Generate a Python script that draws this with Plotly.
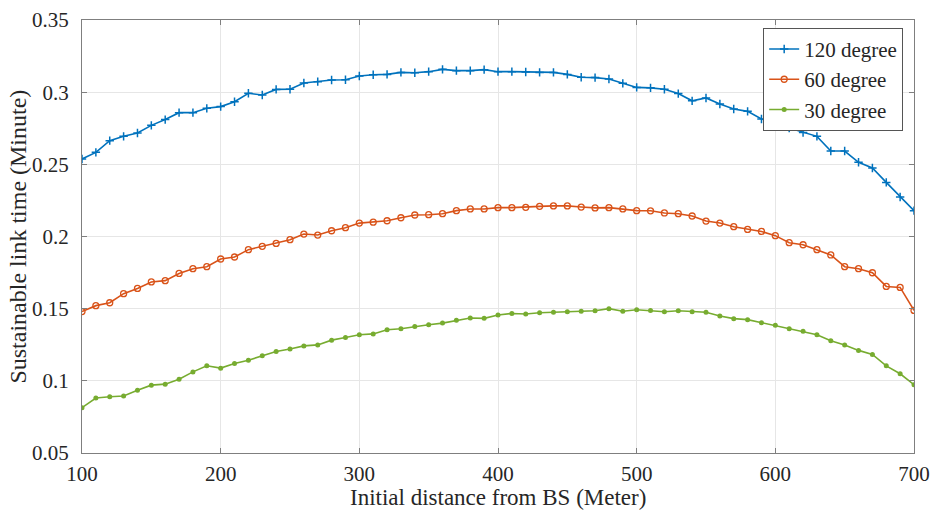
import plotly.graph_objects as go

distance = list(range(100, 701, 10))

deg120 = [0.2537, 0.2583, 0.2664, 0.2694, 0.2717, 0.2770, 0.2810, 0.2858, 0.2858, 0.2888,
          0.2900, 0.2934, 0.2992, 0.2980, 0.3019, 0.3020, 0.3063, 0.3073, 0.3084, 0.3086,
          0.3112, 0.3121, 0.3123, 0.3137, 0.3135, 0.3142, 0.3158, 0.3149, 0.3149, 0.3156,
          0.3142, 0.3142, 0.3140, 0.3137, 0.3137, 0.3123, 0.3103, 0.3101, 0.3091, 0.3061,
          0.3033, 0.3030, 0.3020, 0.2990, 0.2940, 0.2960, 0.2918, 0.2883, 0.2867, 0.2814,
          0.2793, 0.2752, 0.2721, 0.2694, 0.2592, 0.2592, 0.2514, 0.2475, 0.2375, 0.2274,
          0.2179]

deg60 = [0.1480, 0.1521, 0.1541, 0.1604, 0.1640, 0.1685, 0.1694, 0.1744, 0.1777, 0.1791,
         0.1844, 0.1858, 0.1909, 0.1932, 0.1952, 0.1978, 0.2017, 0.2010, 0.2040, 0.2061,
         0.2093, 0.2099, 0.2109, 0.2130, 0.2149, 0.2151, 0.2158, 0.2179, 0.2191, 0.2191,
         0.2200, 0.2200, 0.2202, 0.2209, 0.2212, 0.2212, 0.2204, 0.2198, 0.2200, 0.2191,
         0.2179, 0.2178, 0.2163, 0.2158, 0.2142, 0.2107, 0.2093, 0.2068, 0.2049, 0.2035,
         0.2006, 0.1957, 0.1943, 0.1909, 0.1872, 0.1791, 0.1777, 0.1749, 0.1654, 0.1647,
         0.1488]

deg30 = [0.0814, 0.0881, 0.0890, 0.0895, 0.0935, 0.0970, 0.0977, 0.1011, 0.1062, 0.1104,
         0.1088, 0.1120, 0.1143, 0.1173, 0.1203, 0.1221, 0.1242, 0.1249, 0.1282, 0.1300,
         0.1319, 0.1325, 0.1354, 0.1361, 0.1377, 0.1389, 0.1400, 0.1419, 0.1435, 0.1433,
         0.1456, 0.1467, 0.1463, 0.1472, 0.1475, 0.1479, 0.1482, 0.1486, 0.1500, 0.1482,
         0.1493, 0.1487, 0.1479, 0.1486, 0.1479, 0.1475, 0.1449, 0.1431, 0.1424, 0.1403,
         0.1385, 0.1361, 0.1343, 0.1319, 0.1278, 0.1249, 0.1211, 0.1183, 0.1104, 0.1049,
         0.0973]

x_ticks = [100, 200, 300, 400, 500, 600, 700]
y_ticks = [0.05, 0.1, 0.15, 0.2, 0.25, 0.3, 0.35]
y_tick_labels = ["0.05", "0.1", "0.15", "0.2", "0.25", "0.3", "0.35"]
x_title = "Initial distance from BS (Meter)"
y_title = "Sustainable link time (Minute)"

FONT = "Liberation Serif"
TXT = "#262626"

fig = go.Figure()
fig.add_trace(go.Scatter(
    x=distance, y=deg120, mode="lines+markers", name="120 degree",
    line=dict(color="#0072BD", width=1.6),
    marker=dict(symbol="cross-thin", size=6, line=dict(color="#0072BD", width=1.5)),
))
fig.add_trace(go.Scatter(
    x=distance, y=deg60, mode="lines+markers", name="60 degree",
    line=dict(color="#D95319", width=1.6),
    marker=dict(symbol="circle-open", size=6, line=dict(color="#D95319", width=1.3)),
))
fig.add_trace(go.Scatter(
    x=distance, y=deg30, mode="lines+markers", name="30 degree",
    line=dict(color="#77AC30", width=1.6),
    marker=dict(symbol="circle", size=5, color="#77AC30"),
))

axis_common = dict(
    showline=True, linecolor="#7f7f7f", linewidth=1, mirror="ticks",
    ticks="inside", ticklen=5, tickcolor="#7f7f7f",
    showgrid=True, gridcolor="#e6e6e6", gridwidth=1, zeroline=False,
    tickfont=dict(family=FONT, size=21, color=TXT),
    automargin=False,
)

fig.update_layout(
    width=933, height=512,
    margin=dict(l=82, r=19, t=20, b=59),
    paper_bgcolor="white", plot_bgcolor="white",
    font=dict(family=FONT, size=21, color=TXT),
    xaxis=dict(range=[100, 700], tickvals=x_ticks, ticklabelstandoff=2, **axis_common),
    yaxis=dict(range=[0.05, 0.35], tickvals=y_ticks, ticktext=y_tick_labels,
               ticklabelstandoff=8, **axis_common),
    legend=dict(
        x=0.987, y=0.982, xanchor="right", yanchor="top",
        bgcolor="white", bordercolor="#555555", borderwidth=1,
        font=dict(family=FONT, size=21, color=TXT),
        itemwidth=30, tracegroupgap=0,
    ),
    showlegend=True,
    annotations=[
        dict(text=x_title, xref="paper", yref="paper", x=0.5, y=-0.103,
             xanchor="center", yanchor="middle", showarrow=False,
             font=dict(family=FONT, size=23, color=TXT)),
        dict(text=y_title, xref="paper", yref="paper", x=-0.078, y=0.5,
             xanchor="center", yanchor="middle", showarrow=False, textangle=-90,
             font=dict(family=FONT, size=24, color=TXT)),
    ],
)

fig.write_html("out.html")
